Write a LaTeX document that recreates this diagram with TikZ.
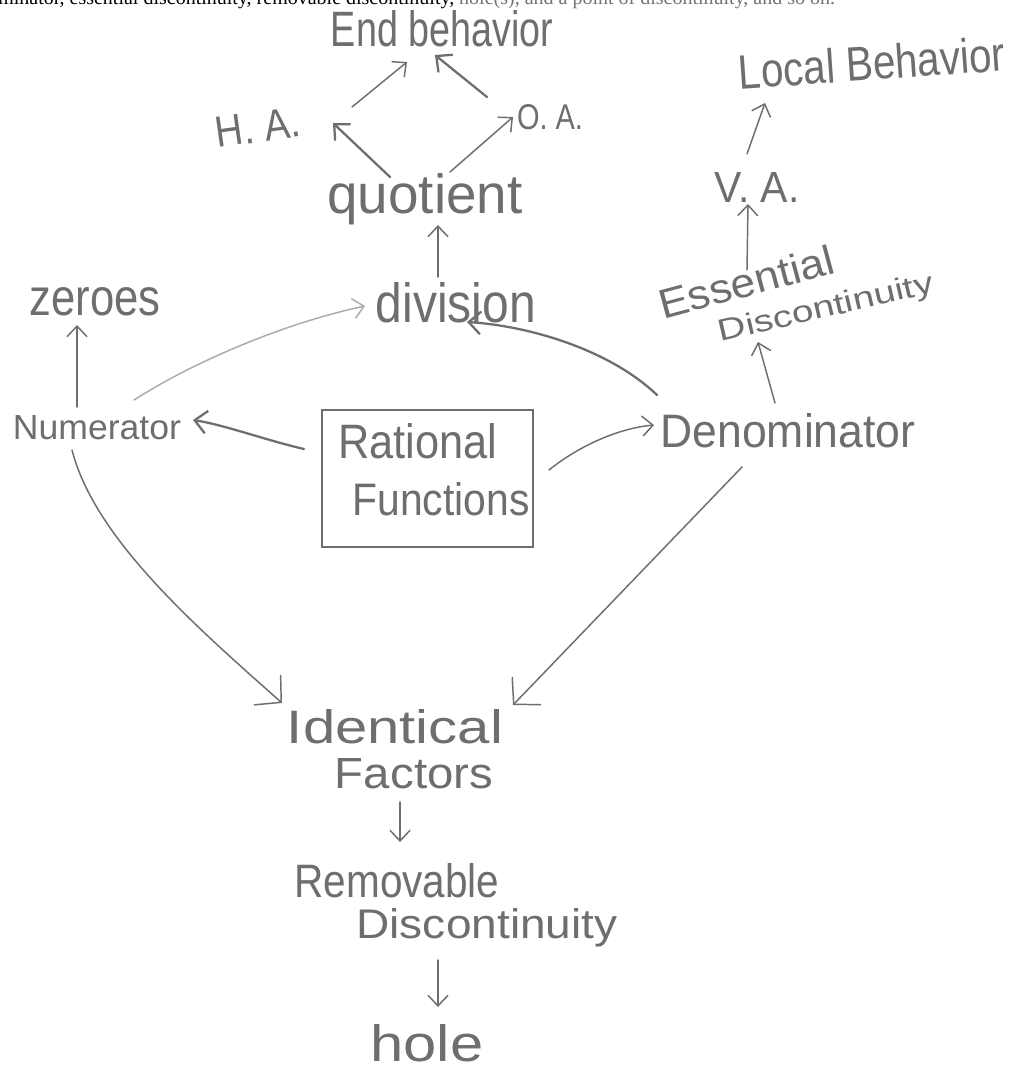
\documentclass[tikz,border=0pt]{standalone}
\usepackage{fontspec}
\setmainfont{Liberation Sans}
\newfontfamily\printfont{Liberation Serif}
\usepackage{graphicx}
\usetikzlibrary{arrows.meta,calc}
\newlength\pxu \setlength\pxu{0.75pt}
\newcommand{\hw}[3]{\resizebox{#1\pxu}{#2\pxu}{#3}}
\definecolor{pencil}{HTML}{6E6E6E}
\definecolor{pencillight}{HTML}{ABABAB}
\begin{document}
\begin{tikzpicture}[x=0.75pt,y=-0.75pt,
  lbl/.style={inner sep=0pt, text=pencil, anchor=base},
  arr/.style={draw=pencil, line width=1.1pt, line cap=round,
    -{Straight Barb[length=8pt,width=15pt,line width=1.1pt]}},
  heavyarr/.style={arr, line width=1.7pt,
    -{Straight Barb[length=9pt,width=17pt,line width=1.7pt]}},
  bigarr/.style={arr, -{Straight Barb[length=14pt,width=30pt,line width=1.1pt]}},
  lightarr/.style={arr, draw=pencillight},
 ]
\useasboundingbox (0,0) rectangle (1020,1070);
\fill[white] (0,0) rectangle (1020,1070);

% cut-off printed line at the very top
\node[anchor=base west, inner sep=0pt] (toptext) at (-2,5)
  {\printfont\fontsize{15}{18}\selectfont minator, essential discontinuity, removable discontinuity, \textcolor{black!55}{hole(s), and a point of discontinuity, and so on.}};

% nodes (placed at their baselines)
\node[lbl] (endb) at (442,47) {\hw{222}{36}{End behavior}};
\node[lbl, rotate=8] (ha) at (260,142) {\hw{85}{30}{H. A.}};
\node[lbl] (oa) at (550,130) {\hw{66}{25}{O. A.}};
\node[lbl] (quot) at (425,213) {\hw{195}{40}{quotient}};
\node[lbl] (div) at (456,322) {\hw{160}{40}{division}};
\node[lbl] (zer) at (95,315) {\hw{131}{28}{zeroes}};
\node[lbl] (num) at (97,439) {\hw{168}{24}{Numerator}};
\node[draw=pencil, line width=1.1pt, minimum width=158.25pt, minimum height=102.75pt, inner sep=0pt] (rat) at (427.5,478.5) {};
\node[lbl] (rat1) at (418,458) {\hw{159}{35}{Rational}};
\node[lbl] (rat2) at (441,515) {\hw{177}{33}{Functions}};
\node[lbl] (den) at (788,447) {\hw{255}{34}{Denominator}};
\node[lbl, rotate=15] (ess) at (750,296) {\hw{180}{30}{Essential}};
\node[lbl, rotate=13] (essd) at (828,317) {\hw{220}{22}{Discontinuity}};
\node[lbl] (va) at (757,202) {\hw{85}{30}{V. A.}};
\node[lbl, rotate=4] (loc) at (873,80) {\hw{267}{35}{Local Behavior}};
\node[lbl] (ident) at (395,743) {\hw{216}{34}{Identical}};
\node[lbl] (fact) at (414,788) {\hw{158}{30}{Factors}};
\node[lbl] (remov) at (397,897) {\hw{205}{34}{Removable}};
\node[lbl] (disc) at (487,938) {\hw{261}{30}{Discontinuity}};
\node[lbl] (hole) at (427,1061) {\hw{113}{37}{hole}};

% connectors
\draw[arr] ($(ha.base)+(92,-35)$) -- ($(endb.base)+(-35,15)$);
\draw[heavyarr] ($(oa.base)+(-63,-33)$) -- ($(endb.base)+(-7,8)$);
\draw[heavyarr] ($(quot.base)+(-35,-36)$) -- ($(ha.base)+(73,-19)$);
\draw[arr] ($(quot.base)+(25,-41)$) -- ($(oa.base)+(-37,-13)$);
\draw[arr] ($(div.base)+(-18,-45)$) -- ($(quot.base)+(13,12)$);
\draw[arr] ($(num.base)+(-20,-32)$) -- ($(zer.base)+(-18,10)$);
\draw[lightarr] ($(num.base)+(37,-39)$) .. controls (200,358) and (290,322) .. ($(div.base)+(-91,-16)$);
\draw[heavyarr] ($(den.base)+(-131,-52)$) .. controls (610,350) and (530,326) .. ($(div.base)+(11,0)$);
\draw[heavyarr] ($(rat.center)+(-123.5,-29.5)$) .. controls (265,440) and (225,425) .. ($(num.base)+(96,-19)$);
\draw[arr] ($(rat.center)+(121.5,-8.5)$) .. controls (580,445) and (620,428) .. ($(den.base)+(-134,-22)$);
\draw[arr] ($(den.base)+(-13,-44)$) -- ($(essd.base)+(-70,25)$);
\draw[arr] ($(ess.base)+(-3,-26)$) -- ($(va.base)+(-9,2)$);
\draw[arr] ($(va.base)+(-10,-48)$) -- ($(loc.base)+(-108,23)$);
\draw[bigarr] ($(num.base)+(-25,11)$) .. controls (95,540) and (200,630) .. ($(ident.base)+(-113,-40)$);
\draw[bigarr] ($(den.base)+(-46,20)$) -- ($(ident.base)+(118,-38)$);
\draw[arr] ($(fact.base)+(-14,14)$) -- ($(remov.base)+(3,-55)$);
\draw[arr] ($(disc.base)+(-49,22)$) -- ($(hole.base)+(11,-54)$);
\end{tikzpicture}
\end{document}
